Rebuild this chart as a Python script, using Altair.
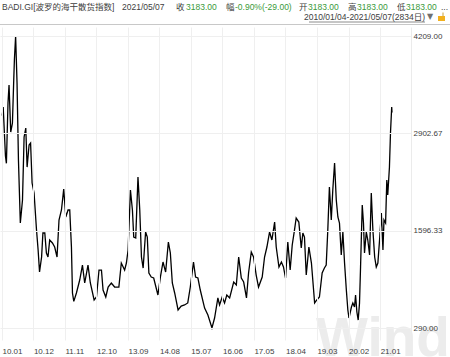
import altair as alt
import pandas as pd

# ---------------- data ----------------
dates = [
    "2010-01-04", "2010-01-14", "2010-02-07", "2010-02-17", "2010-03-06", "2010-03-17",
    "2010-04-04", "2010-04-22", "2010-05-06", "2010-05-13", "2010-05-26", "2010-06-10",
    "2010-06-25", "2010-07-15", "2010-08-07", "2010-08-24", "2010-09-11", "2010-09-25",
    "2010-10-16", "2010-11-01", "2010-11-17", "2010-12-08", "2011-01-03", "2011-01-20",
    "2011-02-04", "2011-02-26", "2011-03-12", "2011-04-01", "2011-04-18", "2011-05-05",
    "2011-05-23", "2011-06-21", "2011-07-15", "2011-08-09", "2011-08-30", "2011-09-25",
    "2011-10-19", "2011-11-10", "2011-12-04", "2011-12-22", "2012-01-09", "2012-01-20",
    "2012-02-03", "2012-03-02", "2012-04-06", "2012-05-05", "2012-05-29", "2012-07-03",
    "2012-07-28", "2012-09-06", "2012-10-01", "2012-10-28", "2012-11-23", "2012-12-10",
    "2013-01-08", "2013-02-02", "2013-03-08", "2013-04-12", "2013-05-27", "2013-06-22",
    "2013-07-27", "2013-08-15", "2013-09-02", "2013-09-27", "2013-10-18", "2013-11-01",
    "2013-11-22", "2013-12-16", "2014-01-04", "2014-01-22", "2014-02-09", "2014-03-07",
    "2014-03-25", "2014-04-11", "2014-05-06", "2014-06-01", "2014-07-16", "2014-08-11",
    "2014-09-08", "2014-10-06", "2014-11-04", "2014-11-25", "2014-12-16", "2015-01-10",
    "2015-02-15", "2015-03-20", "2015-04-25", "2015-05-29", "2015-06-25", "2015-07-29",
    "2015-08-20", "2015-09-14", "2015-10-09", "2015-11-24", "2015-12-29", "2016-02-10",
    "2016-03-09", "2016-04-13", "2016-05-01", "2016-05-29", "2016-06-23", "2016-07-17",
    "2016-08-16", "2016-09-28", "2016-10-26", "2016-11-20", "2016-12-18", "2017-01-12",
    "2017-02-11", "2017-03-05", "2017-04-03", "2017-04-27", "2017-05-25", "2017-06-19",
    "2017-07-28", "2017-08-22", "2017-09-16", "2017-10-14", "2017-11-08", "2017-12-07",
    "2017-12-24", "2018-01-22", "2018-02-17", "2018-03-11", "2018-04-02", "2018-04-26",
    "2018-05-21", "2018-06-12", "2018-07-06", "2018-07-24", "2018-08-21", "2018-09-16",
    "2018-10-03", "2018-10-20", "2018-11-08", "2018-12-06", "2019-01-02", "2019-02-05",
    "2019-02-28", "2019-03-28", "2019-04-26", "2019-05-20", "2019-06-08", "2019-06-25",
    "2019-07-12", "2019-08-01", "2019-08-17", "2019-09-05", "2019-09-23", "2019-10-10",
    "2019-10-27", "2019-11-15", "2019-12-02", "2019-12-20", "2020-01-08", "2020-01-24",
    "2020-02-05", "2020-03-02", "2020-03-17", "2020-04-04", "2020-04-15", "2020-04-29",
    "2020-05-13", "2020-05-27", "2020-06-07", "2020-06-25", "2020-07-08", "2020-07-19",
    "2020-08-07", "2020-08-23", "2020-09-11", "2020-09-29", "2020-10-16", "2020-11-04",
    "2020-11-21", "2020-12-08", "2020-12-26", "2021-01-14", "2021-01-31", "2021-02-11",
    "2021-02-28", "2021-03-13", "2021-03-23", "2021-04-10", "2021-04-21", "2021-05-04",
    "2021-05-07",
]
values = [
    3140, 3256, 2600, 2500, 3310, 3550,
    2920, 3040, 3620, 3890, 4209, 3580,
    2545, 1700, 2008, 2853, 2974, 2450,
    2746, 2773, 2236, 2102, 1605, 1337,
    1043, 1243, 1565, 1565, 1296, 1243,
    1471, 1431, 1377, 1243, 1739, 1874,
    2155, 1780, 1874, 1874, 1377, 760,
    647, 760, 934, 1135, 894, 1135,
    894, 666, 706, 1068, 1068, 800,
    706, 840, 894, 840, 840, 1162,
    1068, 1162, 1337, 2142, 1874, 1511,
    1498, 2317, 1874, 1243, 1095, 1578,
    1511, 1028, 974, 961, 733, 974,
    1176, 1041, 1444, 1297, 894, 760,
    532, 585, 599, 626, 840, 1176,
    974, 961, 800, 558, 464, 290,
    424, 693, 599, 706, 626, 733,
    693, 907, 867, 1243, 961, 907,
    693, 1028, 1310, 1243, 1001, 840,
    974, 1243, 1377, 1578, 1471, 1712,
    1377, 1109, 1176, 1109, 961, 1444,
    1068, 1404, 1605, 1766, 1712, 1364,
    1565, 1511, 1001, 1377, 1162, 626,
    666, 706, 1028, 1095, 1135, 1605,
    2182, 1739, 2142, 2504, 2008, 1780,
    1699, 1270, 1578, 1162, 800, 532,
    424, 572, 626, 572, 733, 505,
    397, 626, 1109, 1941, 1699, 1297,
    1578, 1471, 1270, 2102, 1605, 1243,
    1109, 1162, 1471, 1833, 1337, 1739,
    1699, 2276, 2075, 2451, 2907, 3256,
    3183,
]

x_tick_dates = [
    "2010-01-01", "2010-12-01", "2011-11-01", "2012-10-01", "2013-09-01",
    "2014-08-01", "2015-07-01", "2016-06-01", "2017-05-01", "2018-04-01",
    "2019-03-01", "2020-02-01", "2021-01-01",
]
y_tick_values = [290.00, 1596.33, 2902.67, 4209.00]

header_row1 = [
    "BADI.GI[波罗的海干散货指数]", "2021/05/07", "收", "3183.00", "幅", "-0.90%(-29.00)",
    "开", "3183.00", "高", "3183.00", "低", "3183.00", "...",
]
header_row1_green = [False, False, False, True, False, True, False, True, False, True, False, True, False]
header_row2 = "2010/01/04-2021/05/07(2834日)"
watermark = "Wind"

# ---------------- layout / style ----------------
PLOT_W, PLOT_H = 411, 313
PAD = {"left": 0, "top": 27, "right": 39, "bottom": 17}
FONT = "Liberation Sans, Noto Sans CJK SC, DejaVu Sans, sans-serif"
DARK = "#404040"
GREEN = "#3a9a3a"
GRID = "#efefef"
row1_x = [2, 122, 176, 186, 226, 235, 299, 308, 348, 357, 397, 406, 441]

df = pd.DataFrame({"date": dates, "value": values})


def dt(s):
    y, m, d = map(int, s.split("-"))
    return alt.DateTime(year=y, month=m, date=d, utc=True)


x_enc = alt.X(
    "date:T",
    scale=alt.Scale(type="utc", domain=[dt("2009-12-11"), dt("2021-11-25")]),
    axis=alt.Axis(
        values=[dt(s) for s in x_tick_dates],
        format="%y.%m",
        grid=True, gridColor=GRID, gridWidth=1,
        domain=False, ticks=False,
        labelAlign="left", labelBaseline="top", labelPadding=7,
        labelFont=FONT, labelFontSize=8, labelColor=DARK,
        labelFlush=False, labelOverlap=False,
        title=None, zindex=1,
    ),
)
y_enc = alt.Y(
    "value:Q",
    scale=alt.Scale(domain=[129, 4330], nice=False, zero=False),
    axis=alt.Axis(
        orient="right",
        values=y_tick_values,
        format=".2f",
        grid=True, gridColor=GRID, gridWidth=1,
        domain=True, domainColor="#ebebeb",
        ticks=False,
        labelAlign="left", labelBaseline="middle", labelPadding=2,
        labelFont=FONT, labelFontSize=8, labelColor=DARK,
        labelFlush=False, labelOverlap=False,
        title=None, zindex=1,
    ),
)

one = alt.Data(values=[{"k": 0}])

wm = alt.Chart(one).mark_text(
    text=watermark, font="Liberation Sans", fontWeight="bold", fontSize=55,
    color="#ececec", align="left", baseline="alphabetic",
).encode(x=alt.value(316), y=alt.value(329))

line = alt.Chart(df).mark_line(color="#000000", strokeWidth=1.3).encode(x=x_enc, y=y_enc)

layers = [wm, line]

for txt, px, g in zip(header_row1, row1_x, header_row1_green):
    layers.append(
        alt.Chart(one).mark_text(
            text=txt, font=FONT, fontSize=8.5, color=GREEN if g else DARK,
            align="left", baseline="middle",
        ).encode(x=alt.value(px), y=alt.value(6.5 - 27))
    )

layers.append(
    alt.Chart(one).mark_text(
        text=header_row2, font=FONT, fontSize=8.5, color=DARK,
        align="right", baseline="middle",
    ).encode(x=alt.value(425), y=alt.value(17 - 27))
)
# underline of the date range
layers.append(
    alt.Chart(one).mark_rule(color="#707070", strokeWidth=0.8).encode(
        x=alt.value(309), x2=alt.value(425), y=alt.value(22 - 27)
    )
)
# dropdown triangle
layers.append(
    alt.Chart(one).mark_text(
        text="▼", font="DejaVu Sans", fontSize=8, color="#707070",
        align="left", baseline="middle",
    ).encode(x=alt.value(427), y=alt.value(17 - 27))
)
# lock icon
layers.append(
    alt.Chart(one).mark_rect(color="#f2b01e").encode(
        x=alt.value(438), x2=alt.value(445), y=alt.value(16 - 27), y2=alt.value(21 - 27)
    )
)
layers.append(
    alt.Chart(one).mark_rule(color="#c9a040", strokeWidth=1).encode(
        x=alt.value(443), x2=alt.value(443), y=alt.value(12.5 - 27), y2=alt.value(16 - 27)
    )
)
# separator line under header
layers.append(
    alt.Chart(one).mark_rule(color="#c8c8c8", strokeWidth=1).encode(
        x=alt.value(0), x2=alt.value(450), y=alt.value(24.5 - 27)
    )
)

chart = alt.layer(*layers).properties(
    width=PLOT_W, height=PLOT_H,
    padding=PAD,
    autosize=alt.AutoSizeParams(type="none"),
    background="#ffffff",
).configure_view(strokeOpacity=0)

chart.save("out.html", embed_options={"renderer": "svg", "actions": False})
